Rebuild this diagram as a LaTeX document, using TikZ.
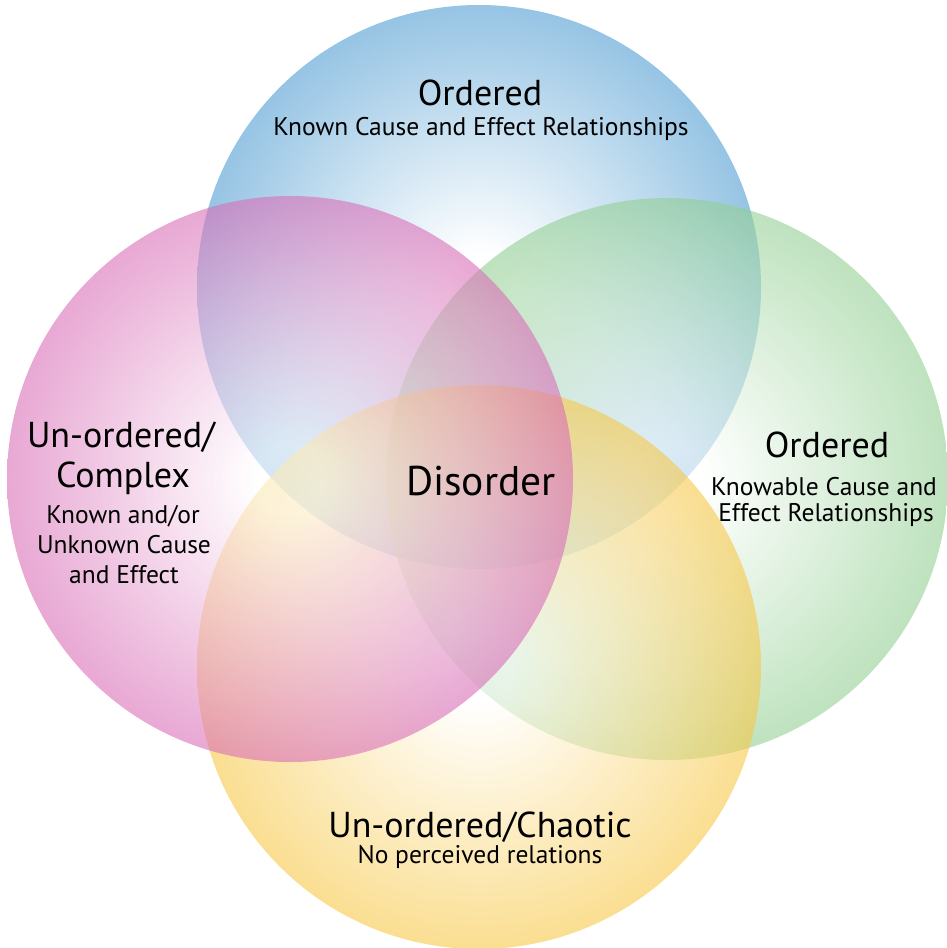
\documentclass[tikz,border=0pt]{standalone}
\usepackage{fontspec}
\setmainfont{PT Sans}
\definecolor{cblue}{RGB}{80,157,210}
\definecolor{cpink}{RGB}{217,110,183}
\definecolor{cgreen}{RGB}{147,207,147}
\definecolor{cyellow}{RGB}{247,200,72}
\colorlet{mblue}{cblue!50!white}
\colorlet{mpink}{cpink!50!white}
\colorlet{mgreen}{cgreen!50!white}
\colorlet{myellow}{cyellow!50!white}
\pgfdeclareradialshading{gblue}{\pgfpoint{0bp}{0bp}}{color(0bp)=(white); color(3bp)=(white); color(14bp)=(mblue); color(25bp)=(cblue); color(50bp)=(cblue)}
\pgfdeclareradialshading{gpink}{\pgfpoint{0bp}{0bp}}{color(0bp)=(white); color(3bp)=(white); color(14bp)=(mpink); color(25bp)=(cpink); color(50bp)=(cpink)}
\pgfdeclareradialshading{ggreen}{\pgfpoint{0bp}{0bp}}{color(0bp)=(white); color(3bp)=(white); color(14bp)=(mgreen); color(25bp)=(cgreen); color(50bp)=(cgreen)}
\pgfdeclareradialshading{gyellow}{\pgfpoint{0bp}{0bp}}{color(0bp)=(white); color(3bp)=(white); color(14bp)=(myellow); color(25bp)=(cyellow); color(50bp)=(cyellow)}
\tikzset{
  disc/.style={fill opacity=0.6},
  bigtxt/.style={anchor=base, inner sep=0pt, font=\fontsize{36}{42}\selectfont},
  smalltxt/.style={anchor=base, inner sep=0pt, font=\fontsize{25.5}{30}\selectfont},
  centertxt/.style={anchor=base, inner sep=0pt, font=\fontsize{41.5}{46}\selectfont},
}
\begin{document}
\begin{tikzpicture}[x=1pt,y=-1pt]
\useasboundingbox (0,0) rectangle (947,948);
\shade[disc, shading=gblue] (479,287) circle[radius=282pt];
\shade[disc, shading=ggreen] (667,479) circle[radius=281pt];
\shade[disc, shading=gyellow] (479,667) circle[radius=282pt];
\shade[disc, shading=gpink] (290,479) circle[radius=283pt];
% top
\node[bigtxt] (t1) at (480,105) {Ordered};
\node[smalltxt] (t2) at (481,135) {Known Cause and Effect Relationships};
% left
\node[bigtxt] (l1) at (121,447) {Un-ordered/};
\node[bigtxt] (l2) at (123,487) {Complex};
\node[smalltxt] (l3) at (123,523) {Known and/or};
\node[smalltxt] (l4) at (124,553) {Unknown Cause};
\node[smalltxt] (l5) at (124,583) {and Effect};
% right
\node[bigtxt] (r1) at (827,457) {Ordered};
\node[smalltxt] (r2) at (824,495) {Knowable Cause and};
\node[smalltxt] (r3) at (826,521) {Effect Relationships};
% bottom
\node[bigtxt] (b1) at (480,837) {Un-ordered/Chaotic};
\node[smalltxt] (b2) at (480,863) {No perceived relations};
% center
\node[centertxt] (c) at (481,495) {Disorder};
\end{tikzpicture}
\end{document}
